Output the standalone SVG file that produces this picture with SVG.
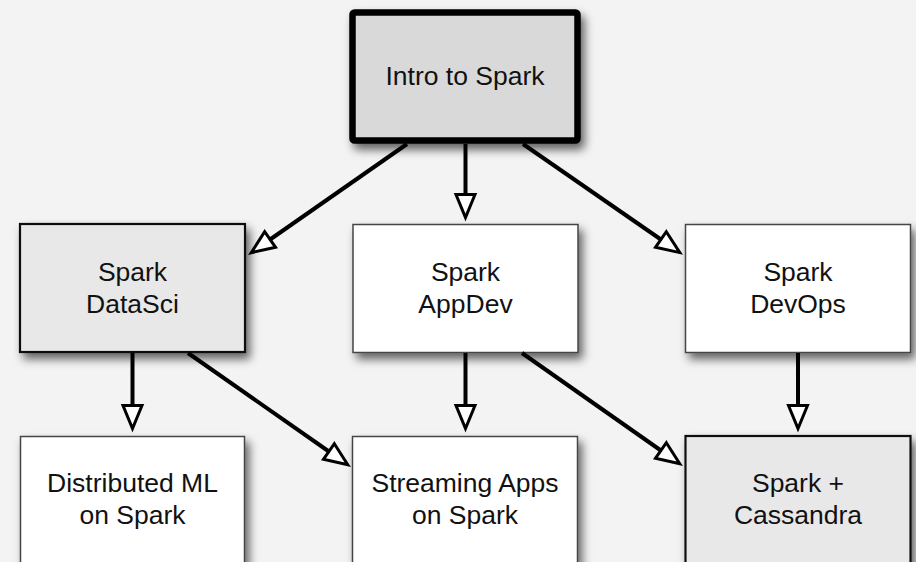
<svg xmlns="http://www.w3.org/2000/svg" width="916" height="562" viewBox="0 0 916 562">
<defs>
<filter id="sh" x="-20%" y="-20%" width="150%" height="150%">
<feDropShadow dx="4" dy="6" stdDeviation="5" flood-color="#000" flood-opacity="0.6"/>
</filter>
<marker id="ah" markerUnits="userSpaceOnUse" markerWidth="40" markerHeight="40" refX="0" refY="0" viewBox="-5 -15 40 30" orient="auto" overflow="visible">
<path d="M0,-9.5 L23,0 L0,9.5 Z" fill="#fff" stroke="#000" stroke-width="3" stroke-linejoin="miter"/>
</marker>
<style>
.box{filter:url(#sh);}
.t{font-family:"Liberation Sans",Arial,sans-serif;font-size:26.5px;fill:#111;text-anchor:middle;}
.e{stroke:#000;stroke-width:4;fill:none;marker-end:url(#ah);}
</style>
</defs>
<rect width="916" height="562" fill="#f3f3f3"/>
<g id="intro">
<rect class="box" x="352.5" y="12.5" width="225" height="128" rx="2" fill="#d9d9d9" stroke="#000" stroke-width="6.5"/>
<text class="t" x="465" y="85">Intro to Spark</text>
</g>
<g id="datasci">
<rect class="box" x="20" y="224" width="225" height="128" fill="#e8e8e8" stroke="#111" stroke-width="2.2"/>
<text class="t" x="132.5" y="281">Spark</text>
<text class="t" x="132.5" y="313">DataSci</text>
</g>
<g id="appdev">
<rect class="box" x="353" y="224.5" width="225" height="128" fill="#fff" stroke="#444" stroke-width="1.5"/>
<text class="t" x="465.5" y="281">Spark</text>
<text class="t" x="465.5" y="313">AppDev</text>
</g>
<g id="devops">
<rect class="box" x="685.5" y="224.5" width="225" height="128" fill="#fff" stroke="#444" stroke-width="1.5"/>
<text class="t" x="798" y="281">Spark</text>
<text class="t" x="798" y="313">DevOps</text>
</g>
<g id="distml">
<rect class="box" x="20.5" y="436.5" width="224" height="130" fill="#fff" stroke="#444" stroke-width="1.5"/>
<text class="t" x="132.5" y="492">Distributed ML</text>
<text class="t" x="132.5" y="524">on Spark</text>
</g>
<g id="streaming">
<rect class="box" x="352.5" y="436.5" width="225" height="130" fill="#fff" stroke="#444" stroke-width="1.5"/>
<text class="t" x="465" y="492">Streaming Apps</text>
<text class="t" x="465" y="524">on Spark</text>
</g>
<g id="cassandra">
<rect class="box" x="685.5" y="436" width="225" height="130" fill="#e8e8e8" stroke="#111" stroke-width="2.2"/>
<text class="t" x="798" y="492">Spark +</text>
<text class="t" x="798" y="524">Cassandra</text>
</g>
<g id="connectors">
<line class="e" x1="407" y1="144" x2="270.1" y2="239.5"/>
<line class="e" x1="465.5" y1="144" x2="465.5" y2="194.5"/>
<line class="e" x1="523" y1="144" x2="660.9" y2="239.5"/>
<line class="e" x1="132.5" y1="353" x2="132.5" y2="405.5"/>
<line class="e" x1="188" y1="353" x2="328.9" y2="451.5"/>
<line class="e" x1="465.5" y1="353" x2="465.5" y2="405.5"/>
<line class="e" x1="522" y1="353" x2="660.9" y2="450.5"/>
<line class="e" x1="798" y1="353" x2="798" y2="405.5"/>
</g>
</svg>
